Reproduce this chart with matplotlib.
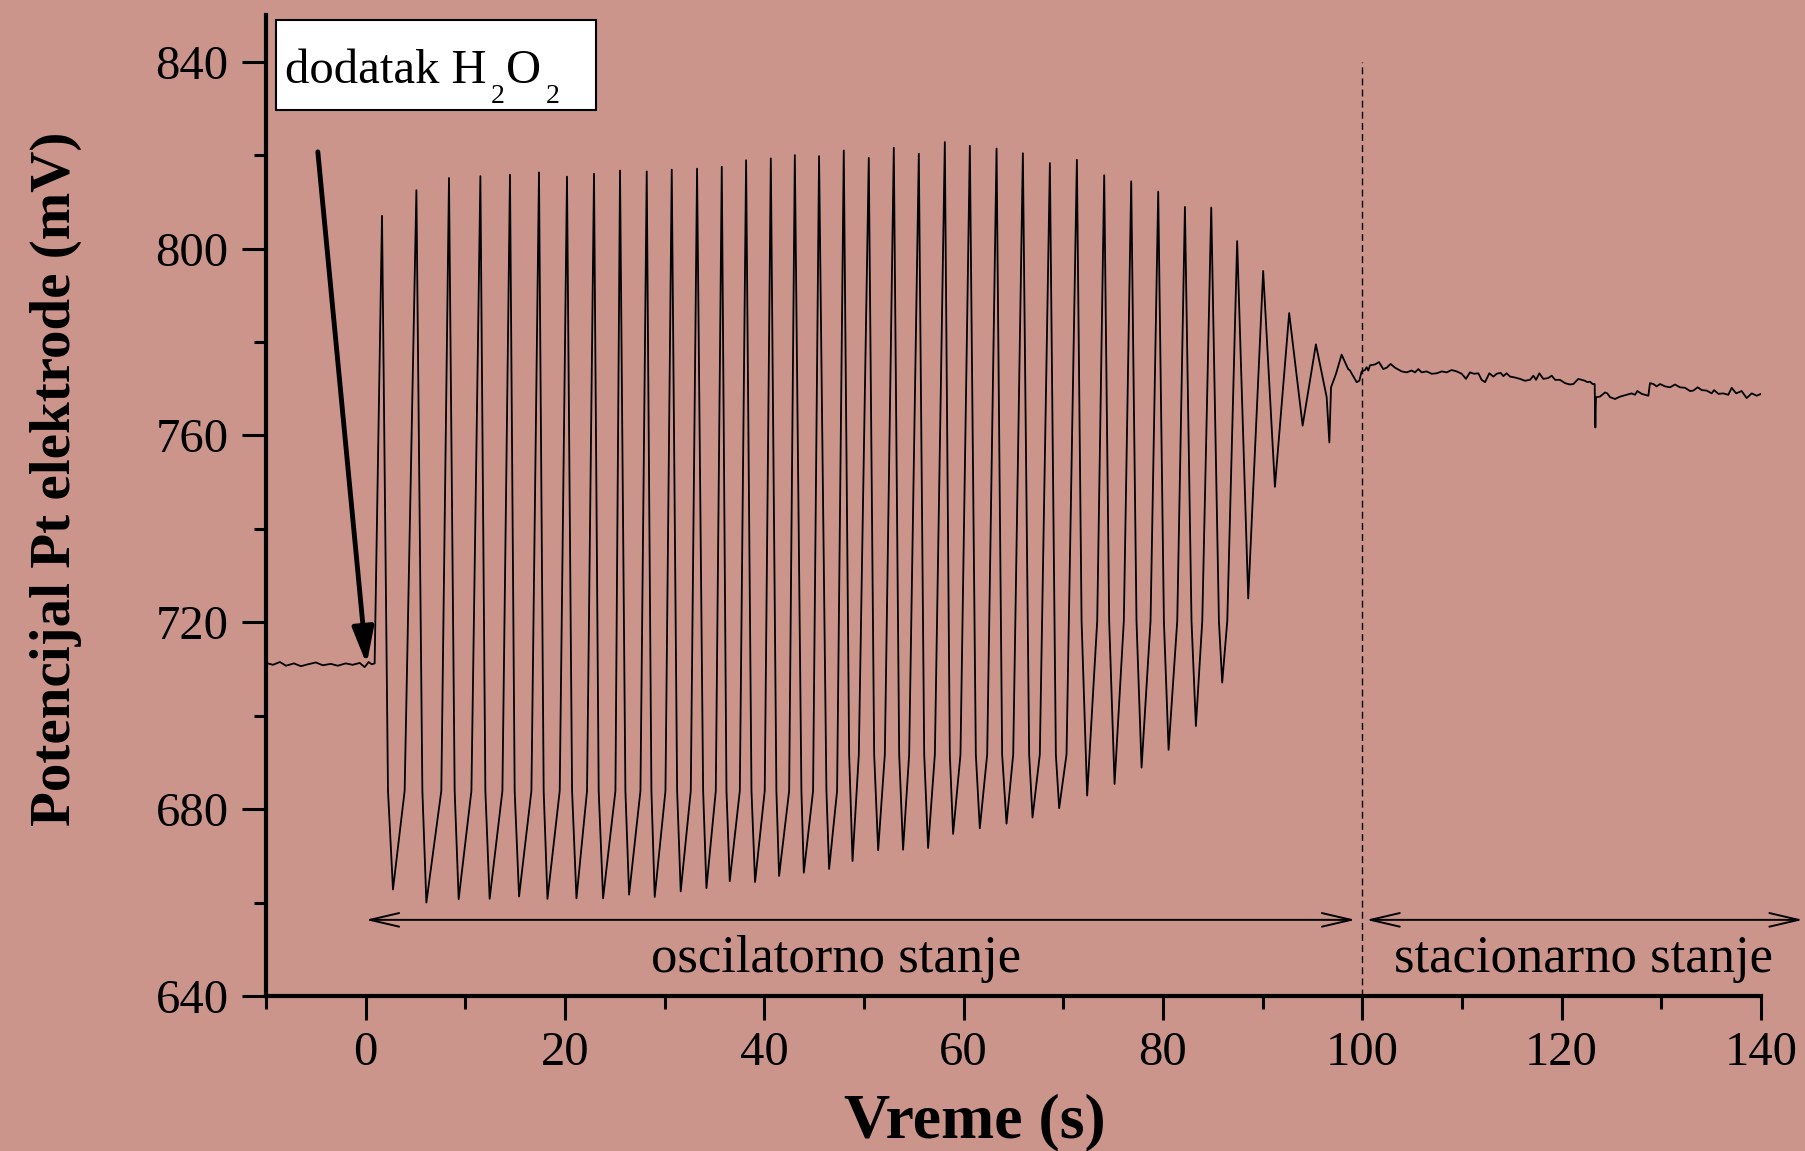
import numpy as np
import matplotlib
matplotlib.use("Agg")
import matplotlib.pyplot as plt
from matplotlib.patches import Rectangle
from matplotlib.transforms import IdentityTransform

# ---------------- data ----------------
baseline_t = [-10, -9.3, -8.6, -8.0, -7.2, -6.5, -5.8, -5.0, -4.3, -3.5, -2.8, -2.0, -1.3, -0.6, -0.1, 0.3, 0.6, 0.9]
baseline_v = [711.3, 710.9, 711.5, 710.7, 711.2, 710.6, 711.0, 711.4, 710.8, 711.1, 710.7, 711.2, 710.9, 711.3, 710.4, 711.5, 711.0, 711.2]

peak_t = [1.64, 5.09, 8.36, 11.51, 14.48, 17.39, 20.20, 22.91, 25.52, 28.20, 30.71, 33.25,
          35.73, 38.17, 40.65, 43.06, 45.49, 47.97, 50.48, 52.99, 55.50, 58.11, 60.62, 63.30,
          65.94, 68.65, 71.36, 74.10, 76.81, 79.52, 82.20, 84.84, 87.44, 90.05, 92.66, 95.34]
peak_v = [807.0, 812.5, 815.1, 815.5, 815.8, 816.3, 815.4, 816.0, 816.7, 816.5, 816.9, 817.1,
          817.5, 818.9, 819.3, 820.0, 819.8, 821.0, 819.4, 821.6, 820.3, 822.8, 822.0, 821.4,
          820.4, 818.3, 819.0, 815.7, 814.4, 812.2, 808.9, 808.8, 801.6, 795.2, 786.2, 779.5]

trough_t = [2.74, 6.09, 9.33, 12.44, 15.39, 18.24, 21.15, 23.82, 26.43, 29.00, 31.61, 34.19,
            36.53, 39.07, 41.48, 43.96, 46.50, 48.85, 51.42, 53.92, 56.43, 58.94, 61.62, 64.30,
            66.91, 69.58, 72.39, 75.14, 77.85, 80.56, 83.30, 85.94, 88.55, 91.23, 94.01]
trough_v = [662.8, 660.0, 660.7, 660.8, 661.3, 660.8, 660.9, 660.9, 661.7, 661.2, 662.4, 663.1,
            664.6, 664.4, 665.7, 666.4, 667.2, 668.9, 671.2, 671.3, 671.7, 674.7, 675.9, 676.9,
            678.2, 680.2, 682.9, 685.4, 688.9, 692.7, 697.8, 707.1, 725.1, 749.0, 762.1]

# where each trough's falling / rising flank crosses a fixed level (read in close-ups)
fall_knee_t = [2.24, 5.69, 8.93, 12.01, 14.95, 17.86, 20.71, 23.38, 26.06, 28.67, 31.25, 33.86,
               36.20, 38.71, 41.21, 43.72, 46.23, 48.51, 51.02, 53.53, 56.04, 58.61, 61.22, 63.86,
               66.57, 69.25, 71.83, 74.60, 77.34, 80.09, 82.86, 85.61]
rise_knee_t = [3.91, 7.59, 10.61, 13.72, 16.63, 19.47, 22.21, 25.06, 27.57, 30.08, 32.62, 35.13,
               37.54, 40.04, 42.49, 44.89, 47.30, 49.48, 52.09, 54.53, 57.11, 59.68, 62.36, 64.97,
               67.64, 70.32, 73.40, 76.07, 78.75, 81.43, 83.94, 86.45]
knee_v = [683.9, 683.9, 683.9, 683.9, 683.9, 683.9, 683.9, 683.9, 683.9, 683.9, 683.9, 683.9,
          683.9, 683.9, 683.9, 683.9, 683.9, 691.7, 691.7, 691.7, 691.7, 691.7, 691.7, 691.7,
          691.7, 691.7, 720.3, 720.3, 720.3, 720.3, 720.3, 720.3]

tail_t = [96.42, 96.69, 96.86, 97.36, 97.92, 98.58, 98.76, 99.43]
tail_v = [768.2, 758.5, 770.3, 773.2, 777.3, 774.2, 773.9, 771.4]

steady_t = [99.70, 99.93, 100.27, 100.43, 100.60, 100.77, 101.27, 101.67, 102.10, 102.44, 102.84,
            103.28, 103.95, 104.45, 104.95, 105.28, 105.62, 105.95, 106.45, 106.96, 107.46, 107.96,
            108.46, 108.96, 109.47, 109.97, 110.40, 110.80, 111.20, 111.64, 111.97, 112.31, 112.74,
            113.15, 113.48, 113.88, 114.15, 114.48, 114.82, 115.32, 115.82, 116.32, 116.83, 117.16,
            117.43, 117.76, 118.16, 118.67, 119.00, 119.34, 119.83, 120.33, 120.83, 121.17, 121.67,
            122.00, 122.34, 122.57, 122.84, 123.11, 123.31, 123.38, 123.44, 123.84, 124.35, 124.58,
            124.85, 125.35, 125.85, 126.52, 127.02, 127.36, 127.59, 128.03, 128.70, 128.86, 129.20,
            129.53, 129.87, 130.37, 130.87, 131.37, 131.87, 132.38, 132.88, 133.21, 133.65, 134.05,
            134.55, 135.05, 135.29, 135.72, 136.22, 136.72, 137.06, 137.50, 138.06, 138.56, 139.07,
            139.57, 140.0]
steady_v = [771.7, 773.7, 774.0, 774.6, 773.9, 775.0, 775.2, 775.7, 774.2, 774.5, 775.3,
            774.5, 773.7, 773.5, 773.9, 773.5, 774.2, 773.5, 773.7, 773.2, 773.3, 773.7,
            773.5, 774.0, 773.7, 773.2, 772.1, 773.5, 773.2, 773.3, 771.9, 771.4, 773.3,
            772.6, 773.2, 773.4, 772.7, 773.3, 772.6, 772.4, 772.1, 771.7, 771.9, 772.8,
            771.9, 773.3, 772.1, 772.3, 772.8, 771.9, 771.9, 771.2, 770.9, 771.0, 772.1,
            771.9, 771.7, 771.4, 771.5, 771.0, 771.0, 761.7, 768.2, 768.3, 769.2, 769.0,
            768.2, 767.8, 768.3, 768.7, 769.0, 768.7, 769.5, 768.9, 768.5, 771.2, 771.0,
            770.5, 771.0, 770.5, 770.3, 770.9, 770.3, 770.2, 769.5, 769.6, 770.3, 769.7,
            769.6, 769.0, 769.7, 768.9, 769.0, 768.7, 770.2, 769.0, 769.5, 768.0, 769.0,
            768.5, 768.9]

x_major = [0, 20, 40, 60, 80, 100, 120, 140]
y_major = [640, 680, 720, 760, 800, 840]

# ---------------- figure ----------------
BG = '#cc958c'
SERIF = ['Liberation Serif', 'DejaVu Serif']
plt.rcParams['font.family'] = SERIF

fig = plt.figure(figsize=(18.05, 11.51), dpi=100, facecolor=BG)
ax = fig.add_axes([266/1805, 1 - 996/1151, (1761-266)/1805, (996-15)/1151])
ax.set_facecolor(BG)

t_all = np.concatenate([baseline_t, peak_t, trough_t, fall_knee_t, rise_knee_t, tail_t, steady_t])
v_all = np.concatenate([baseline_v, peak_v, trough_v, knee_v, knee_v, tail_v, steady_v])
order = np.argsort(t_all, kind='stable')
ax.plot(t_all[order], v_all[order], color='black', lw=1.3, solid_joinstyle='round')

ax.set_xlim(-10, 140)
ax.set_ylim(640, 850)

for s in ['top', 'right']:
    ax.spines[s].set_visible(False)
for s in ['left', 'bottom']:
    ax.spines[s].set_linewidth(3)

ax.set_xticks(x_major)
ax.set_xticks(np.arange(-10, 141, 20), minor=True)
ax.set_yticks(y_major)
ax.set_yticks(np.arange(660, 850, 40), minor=True)
ax.tick_params(which='major', direction='out', length=17, width=2.2, labelsize=35, pad=10)
ax.tick_params(which='minor', direction='out', length=9, width=2.2)
ax.tick_params(axis='x', which='major', pad=8)

# dashed separator
ax.plot([100, 100], [640, 840], color='black', lw=1.0, ls=(0, (5, 3)))

# double arrows
arrow_style = '<->,head_length=1.5,head_width=0.35'
ax.annotate('', xy=(0, 656.3), xytext=(99.3, 656.3),
            arrowprops=dict(arrowstyle=arrow_style, lw=1.4, color='black',
                            shrinkA=0, shrinkB=0, mutation_scale=14))
ax.annotate('', xy=(100.4, 656.3), xytext=(144.2, 656.3), annotation_clip=False,
            arrowprops=dict(arrowstyle=arrow_style, lw=1.4, color='black',
                            shrinkA=0, shrinkB=0, mutation_scale=14))

ax.text(47.2, 645.2, 'oscilatorno stanje', ha='center', va='baseline', fontsize=38)
ax.text(122.2, 645.2, 'stacionarno stanje', ha='center', va='baseline', fontsize=38)

# H2O2 addition arrow
ax.annotate('', xy=(0.1, 711.0), xytext=(-4.8, 820.7),
            arrowprops=dict(arrowstyle='-|>,head_length=2.2,head_width=0.65', lw=3.5,
                            color='black', shrinkA=0, shrinkB=0, mutation_scale=10))

# label box
ax.add_patch(Rectangle((0.0067, 0.9027), 0.2207 - 0.0067, 0.9953 - 0.9027,
                       transform=ax.transAxes, facecolor='white', edgecolor='black',
                       lw=1.5, clip_on=False, zorder=5))
H = 1151
base_y = H - 83.3       # baseline of main text (display px, from bottom)
sub_y = H - 102.7       # baseline of subscripts
renderer = fig.canvas.get_renderer()
pieces = [('dodatak H', 35, base_y, 0), ('2', 20, sub_y, 4), ('O', 35, base_y, 2), ('2', 20, sub_y, 4)]
x_cur = 285.0
for s, fs, yb, gap in pieces:
    x_cur += gap
    tx = fig.text(x_cur, yb, s, transform=IdentityTransform(), ha='left', va='baseline',
                  fontsize=fs, zorder=6)
    bb = tx.get_window_extent(renderer)
    x_cur = bb.x1

# axis labels
fig.text(56/1805, 1 - 479/1151, 'Potencijal Pt elektrode (mV)', rotation=90,
         ha='center', va='center', fontsize=41, fontweight='bold')
fig.text(975/1805, 1 - 1122/1151, 'Vreme (s)', ha='center', va='center',
         fontsize=46, fontweight='bold')

fig.savefig('out.png', dpi=100, facecolor=BG)
